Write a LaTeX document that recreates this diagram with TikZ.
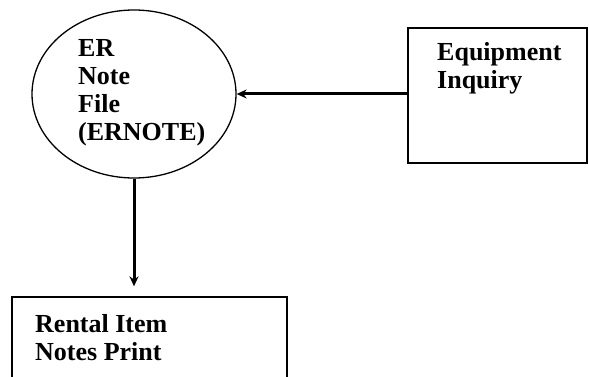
\documentclass[tikz,border=0pt]{standalone}
\usepackage{fontspec}
\setmainfont{Liberation Serif}
\usetikzlibrary{shapes.geometric,arrows.meta}
\begin{document}
\begin{tikzpicture}[x=1pt,y=-1pt,
  boxshape/.style={draw, line width=1.3pt, rectangle, inner sep=0pt},
  txt/.style={anchor=north west, align=left, inner sep=0pt, font=\bfseries\fontsize{26}{28}\selectfont},
  flow/.style={line width=3pt, -{Stealth[length=10pt,width=9pt]}}]
\useasboundingbox (0,0) rectangle (589,377);
\clip (0,0) rectangle (589,377);
\node[draw, ellipse, line width=1.3pt, minimum width=204pt, minimum height=168pt, inner sep=0pt] (file) at (134,94) {};
\node[txt] (filetxt) at (78,39) {ER\\Note\\File\\(ERNOTE)};
\node[boxshape, minimum width=179pt, minimum height=135pt] (inq) at (497.5,95.5) {};
\node[txt] (inqtxt) at (437,42) {Equipment\\Inquiry};
\node[boxshape, minimum width=275pt, minimum height=110pt] (print) at (149.5,352) {};
\node[txt] (printtxt) at (35,314) {Rental Item\\Notes Print};
\draw[flow] (inq.west |- file.east) -- (file.east);
\draw[flow, shorten >=10pt] (file.south) -- (file.south |- print.north);
\end{tikzpicture}
\end{document}
